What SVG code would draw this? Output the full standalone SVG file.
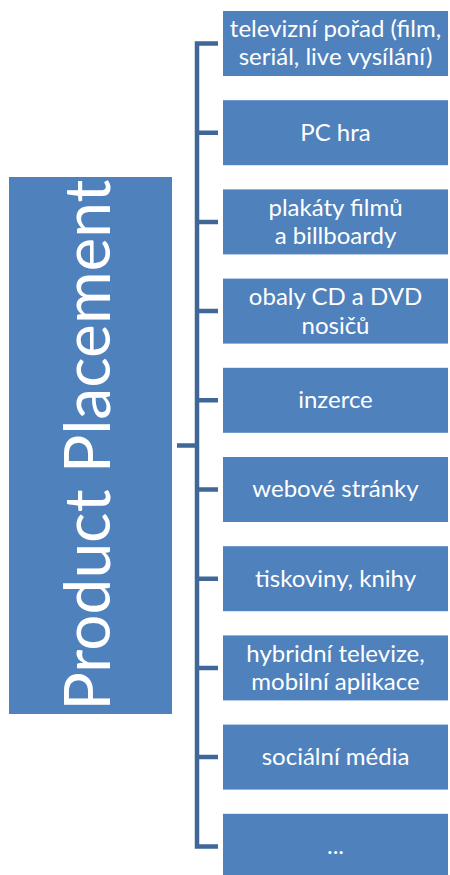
<svg xmlns="http://www.w3.org/2000/svg" width="450" height="875" viewBox="0 0 450 875">
<style>
.box{fill:#4f81bd;}
.t{fill:#ffffff;font-family:Lato,"Open Sans","Liberation Sans",sans-serif;font-size:24px;text-anchor:middle;}
.big{fill:#ffffff;font-family:Lato,"Open Sans","Liberation Sans",sans-serif;font-size:64px;text-anchor:middle;}
.ln{fill:none;stroke:#3f6797;stroke-width:4.5;stroke-linejoin:miter;stroke-linecap:butt;}
</style>
<rect width="450" height="875" fill="#ffffff"/>
<g id="connectors">
<path class="ln" d="M218,43.5 H197 V846.5 H218"/>
<path class="ln" d="M177,445.5 H197 M197,132.7 H218 M197,221.9 H218 M197,311.1 H218 M197,400.3 H218 M197,489.5 H218 M197,578.7 H218 M197,667.9 H218 M197,757.1 H218"/>
</g>
<g id="root">
<rect class="box" x="9" y="177" width="163" height="537"/>
<text class="big" transform="translate(110,445) rotate(-90)">Product Placement</text>
</g>
<g id="n1">
<rect class="box" x="223" y="11" width="225" height="65"/>
<text class="t" x="335.5" y="36.5">televizní pořad (film,</text>
<text class="t" x="335.5" y="65">seriál, live vysílání)</text>
</g>
<g id="n2">
<rect class="box" x="223" y="100.2" width="225" height="65"/>
<text class="t" x="335.5" y="140.5">PC hra</text>
</g>
<g id="n3">
<rect class="box" x="223" y="189.4" width="225" height="65"/>
<text class="t" x="335.5" y="215.7">plakáty filmů</text>
<text class="t" x="335.5" y="244.3">a billboardy</text>
</g>
<g id="n4">
<rect class="box" x="223" y="278.6" width="225" height="65"/>
<text class="t" x="335.5" y="304.9">obaly CD a DVD</text>
<text class="t" x="335.5" y="333.5">nosičů</text>
</g>
<g id="n5">
<rect class="box" x="223" y="367.8" width="225" height="65"/>
<text class="t" x="335.5" y="408.1">inzerce</text>
</g>
<g id="n6">
<rect class="box" x="223" y="457" width="225" height="65"/>
<text class="t" x="335.5" y="497.3">webové stránky</text>
</g>
<g id="n7">
<rect class="box" x="223" y="546.2" width="225" height="65"/>
<text class="t" x="335.5" y="586.5">tiskoviny, knihy</text>
</g>
<g id="n8">
<rect class="box" x="223" y="635.4" width="225" height="65"/>
<text class="t" x="335.5" y="661.7">hybridní televize,</text>
<text class="t" x="335.5" y="690.3">mobilní aplikace</text>
</g>
<g id="n9">
<rect class="box" x="223" y="724.6" width="225" height="65"/>
<text class="t" x="335.5" y="764.9">sociální média</text>
</g>
<g id="n10">
<rect class="box" x="223" y="813.8" width="225" height="65"/>
<text class="t" x="335.5" y="854.1">...</text>
</g>
</svg>
